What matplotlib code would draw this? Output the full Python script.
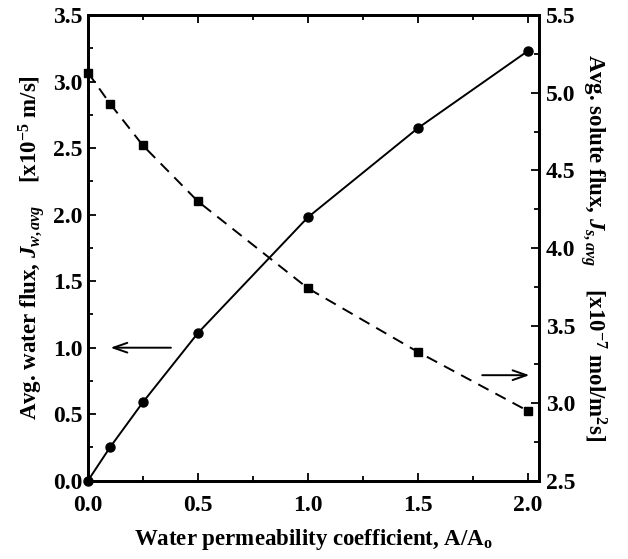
import matplotlib
matplotlib.use("Agg")
import matplotlib.pyplot as plt
from matplotlib.ticker import MultipleLocator

plt.rcParams['font.family'] = ['Liberation Serif', 'DejaVu Serif']
plt.rcParams['font.weight'] = 'bold'
plt.rcParams['mathtext.fontset'] = 'custom'
plt.rcParams['mathtext.rm'] = 'Liberation Serif:bold'
plt.rcParams['mathtext.it'] = 'Liberation Serif:italic:bold'
plt.rcParams['mathtext.bf'] = 'Liberation Serif:bold'

# data
perm = [0.0, 0.1, 0.25, 0.5, 1.0, 1.5, 2.0]
water_flux = [0.0, 0.25, 0.59, 1.11, 1.98, 2.65, 3.23]      # x1e-5 m/s
solute_flux = [5.13, 4.93, 4.66, 4.30, 3.74, 3.33, 2.95]    # x1e-7 mol/m2s

fig = plt.figure(figsize=(6.28, 5.59), dpi=100)
ax = fig.add_axes([0.140, 0.140, 0.718, 0.833])
ax2 = ax.twinx()

ax.plot(perm, water_flux, '-', color='black', lw=1.4,
        marker='o', ms=6.5, clip_on=False, zorder=5)
ax2.plot(perm, solute_flux, '--', color='black', lw=1.4, dashes=(6, 4),
         marker='s', ms=5.5, clip_on=False, zorder=5)

ax.set_xlim(0, 2.05)
ax.set_ylim(0, 3.5)
ax2.set_ylim(2.5, 5.5)

ax.xaxis.set_major_locator(MultipleLocator(0.5))
ax.xaxis.set_minor_locator(MultipleLocator(0.25))
ax.yaxis.set_major_locator(MultipleLocator(0.5))
ax.yaxis.set_minor_locator(MultipleLocator(0.25))
ax2.yaxis.set_major_locator(MultipleLocator(0.5))
ax2.yaxis.set_minor_locator(MultipleLocator(0.25))

ax.xaxis.set_major_formatter(plt.FormatStrFormatter('%.1f'))
ax.yaxis.set_major_formatter(plt.FormatStrFormatter('%.1f'))
ax2.yaxis.set_major_formatter(plt.FormatStrFormatter('%.1f'))

for a in (ax, ax2):
    a.tick_params(which='both', direction='in', width=1.3, labelsize=17)
    a.tick_params(which='major', length=6)
    a.tick_params(which='minor', length=3.5)
    for s in a.spines.values():
        s.set_linewidth(2)
ax.tick_params(axis='x', which='both', top=True, pad=10)
ax.tick_params(axis='y', right=False, pad=4)
ax2.tick_params(axis='y', pad=5)

ax.set_xlabel('Water permeability coefficient, A/A$_\\mathregular{o}$',
              fontsize=16.5, fontweight='bold', labelpad=8)
ax.set_ylabel('Avg. water flux, $J_{w,avg}$    [x10$^{-5}$ m/s]',
              fontsize=16.5, fontweight='bold', labelpad=4)
ax2.set_ylabel('Avg. solute flux, $J_{s,avg}$    [x10$^{-7}$ mol/m$^{2}$s]',
               fontsize=16.5, fontweight='bold', rotation=270, labelpad=24)

# arrows pointing to the matching axes
ax.annotate('', xy=(0.09, 1.0), xytext=(0.39, 1.0),
            arrowprops=dict(arrowstyle='->,head_length=1.0,head_width=0.35', color='black', lw=1.4))
ax2.annotate('', xy=(2.02, 3.18), xytext=(1.78, 3.18),
             arrowprops=dict(arrowstyle='->,head_length=1.0,head_width=0.35', color='black', lw=1.4))

fig.savefig('out.png', dpi=100)
